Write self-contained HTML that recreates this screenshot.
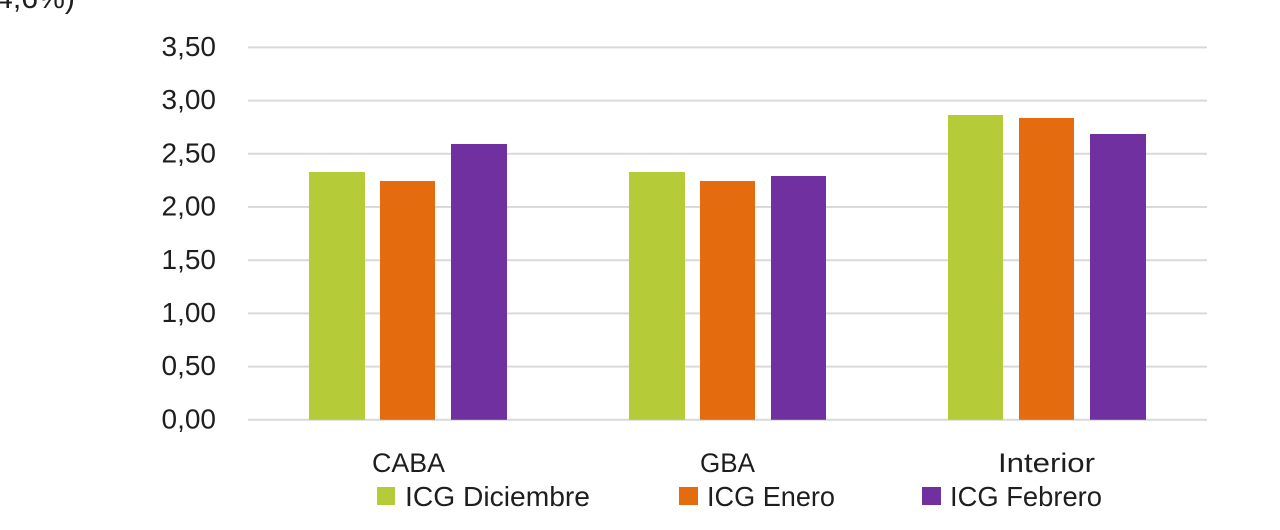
<!DOCTYPE html>
<html>
<head>
<meta charset="utf-8">
<style>
html,body{margin:0;padding:0;background:#fff;}
svg{display:block;}
text{font-family:"Liberation Sans",sans-serif;fill:#1e1e1e;}
</style>
</head>
<body>
<svg width="1280" height="530" viewBox="0 0 1280 530" xmlns="http://www.w3.org/2000/svg">
<rect x="0" y="0" width="1280" height="530" fill="#fff"/>
<!-- partial title at top -->
<text x="-4" y="8" font-size="30" textLength="79" lengthAdjust="spacingAndGlyphs">4,6%)</text>
<!-- gridlines -->
<g stroke="#d9d9d9" stroke-width="2">
<line x1="248" y1="47.4" x2="1207" y2="47.4"/>
<line x1="248" y1="100.6" x2="1207" y2="100.6"/>
<line x1="248" y1="153.8" x2="1207" y2="153.8"/>
<line x1="248" y1="207" x2="1207" y2="207"/>
<line x1="248" y1="260.2" x2="1207" y2="260.2"/>
<line x1="248" y1="313.4" x2="1207" y2="313.4"/>
<line x1="248" y1="366.6" x2="1207" y2="366.6"/>
<line x1="248" y1="419.8" x2="1207" y2="419.8"/>
</g>
<!-- y tick labels -->
<g font-size="28" text-anchor="end">
<text x="216" y="56">3,50</text>
<text x="216" y="109.2">3,00</text>
<text x="216" y="162.4">2,50</text>
<text x="216" y="215.6">2,00</text>
<text x="216" y="268.8">1,50</text>
<text x="216" y="322">1,00</text>
<text x="216" y="375.2">0,50</text>
<text x="216" y="428.4">0,00</text>
</g>
<!-- bars -->
<g>
<rect x="309" y="172" width="56" height="247.8" fill="#b5cb38"/>
<rect x="380" y="181" width="55" height="238.8" fill="#e46c0e"/>
<rect x="451" y="144" width="56" height="275.8" fill="#7130a0"/>

<rect x="629" y="172" width="56" height="247.8" fill="#b5cb38"/>
<rect x="700" y="181" width="55" height="238.8" fill="#e46c0e"/>
<rect x="771" y="176" width="55" height="243.8" fill="#7130a0"/>

<rect x="948" y="115" width="55" height="304.8" fill="#b5cb38"/>
<rect x="1019" y="118" width="55" height="301.8" fill="#e46c0e"/>
<rect x="1090" y="134" width="56" height="285.8" fill="#7130a0"/>
</g>
<!-- category labels -->
<g font-size="27">
<text x="372" y="472" textLength="73" lengthAdjust="spacingAndGlyphs">CABA</text>
<text x="700" y="472" textLength="55" lengthAdjust="spacingAndGlyphs">GBA</text>
<text x="998" y="472" textLength="97" lengthAdjust="spacingAndGlyphs">Interior</text>
</g>
<!-- legend -->
<rect x="377" y="487" width="18" height="18" fill="#b5cb38"/>
<rect x="679" y="487" width="19" height="18" fill="#e46c0e"/>
<rect x="922" y="487" width="19" height="18" fill="#7130a0"/>
<g font-size="28">
<text x="405" y="506" textLength="185" lengthAdjust="spacingAndGlyphs">ICG Diciembre</text>
<text x="707" y="506" textLength="128" lengthAdjust="spacingAndGlyphs">ICG Enero</text>
<text x="950" y="506" textLength="152" lengthAdjust="spacingAndGlyphs">ICG Febrero</text>
</g>
</svg>
</body>
</html>
